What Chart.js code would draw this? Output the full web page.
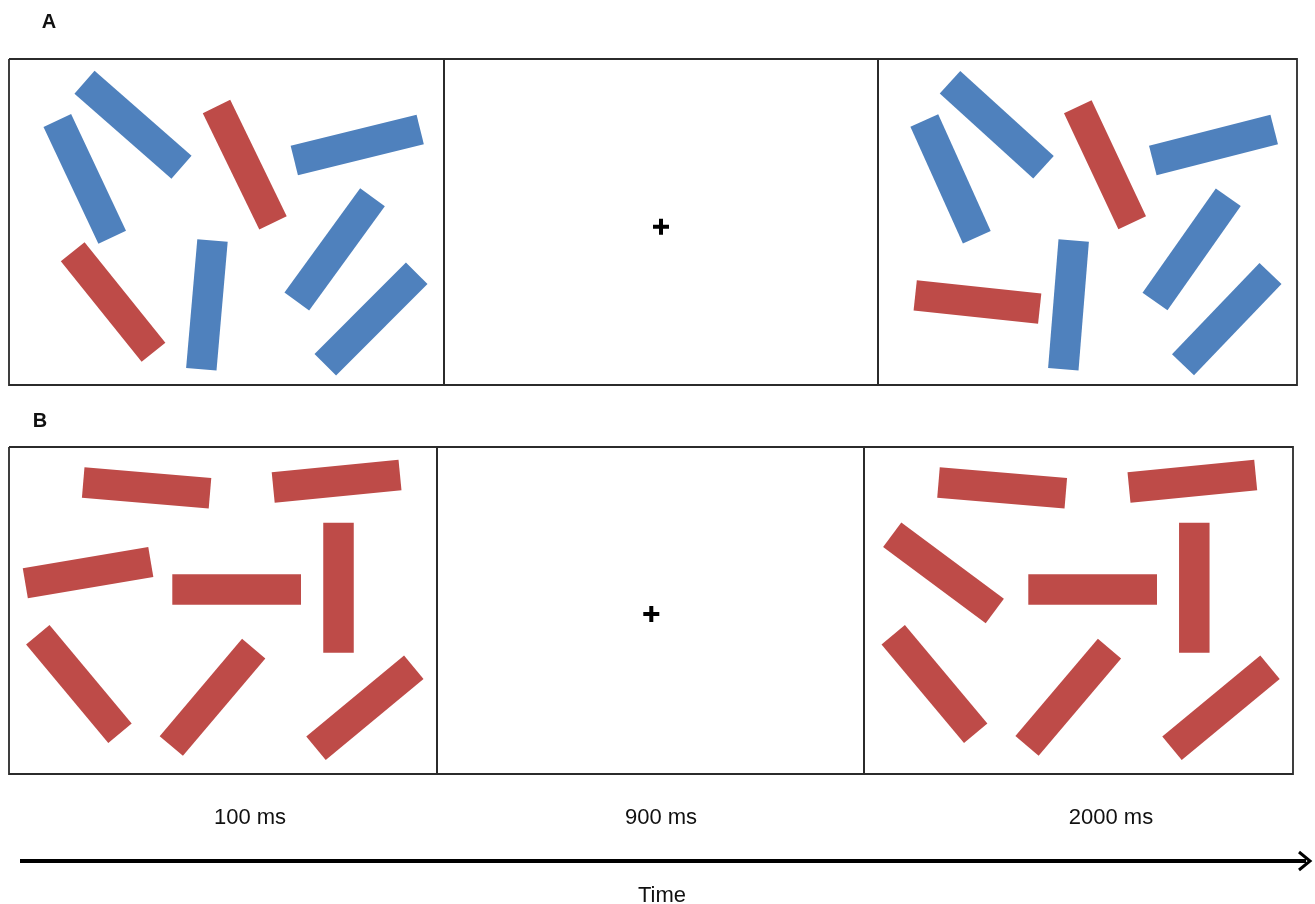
<!DOCTYPE html>
<html>
<head>
    <title>Stimulus sequence</title>
    <script src="https://cdn.jsdelivr.net/npm/chart.js@4.4.0/dist/chart.umd.min.js"></script>
    <style>
        body { margin: 0; background: #fff; }
        #wrap { width: 1315px; height: 904px; position: relative; }
    </style>
</head>
<body>
    <div id="wrap"><canvas id="myChart"></canvas></div>

    <script>
        // Panel frames (figure units)
        const rowAEdges = [9, 444, 878, 1297];
        const rowATopBottom = [59, 385];
        const rowBEdges = [9, 437, 864, 1293];
        const rowBTopBottom = [447, 774];

        // Bars: [x1, y1, x2, y2] centre line ends
        const barsA1 = [[84.5, 82.2, 181.5, 167.2], [57.3, 120.5, 112.2, 237.3], [216.5, 106.5, 273, 222.8],
            [294.3, 160.5, 420.2, 129.5], [72.7, 251.8, 153.5, 352.2], [212.5, 240.5, 201.3, 369.3],
            [372.5, 197.2, 296.8, 301.5], [416.7, 273.3, 325.3, 364.8]];
        const coloursA1 = ['blue', 'blue', 'red', 'blue', 'red', 'blue', 'blue', 'blue'];
        const barsA3 = [[950, 82.2, 1043.5, 167.2], [924.3, 120.5, 976.8, 237.3], [1077.8, 106.7, 1132.2, 222.8],
            [1152.8, 160.5, 1274.2, 129.5], [915.2, 295.3, 1039.7, 308.7], [1073.7, 240.5, 1063.3, 369.3],
            [1228.3, 197.2, 1155, 301.5], [1270.5, 273.5, 1183, 364.8]];
        const coloursA3 = ['blue', 'blue', 'red', 'blue', 'red', 'blue', 'blue', 'blue'];
        const barsB1 = [[83.2, 482.5, 210, 493.2], [273.2, 487.5, 400, 475], [25.3, 583.2, 150.8, 562],
            [172.3, 589.5, 301, 589.5], [338.5, 522.7, 338.5, 652.7], [37.8, 634.7, 120, 733.2],
            [253.7, 648.7, 171.3, 746], [413.8, 667.3, 316, 748.3]];
        const barsB3 = [[938.5, 482.5, 1065.8, 493.2], [1129, 487.5, 1255.7, 475], [892.2, 534.7, 994.8, 611],
            [1028.3, 589.5, 1157, 589.5], [1194.3, 522.7, 1194.3, 652.7], [893.2, 634.8, 975.7, 733.2],
            [1109.5, 648.7, 1027, 745.8], [1270, 667.2, 1172, 748.3]];
        const coloursB = ['red', 'red', 'red', 'red', 'red', 'red', 'red', 'red'];

        // Fixation crosses
        const fixationPoints = [[661, 226.7], [651.3, 614]];

        // Timeline
        const durations = ['100 ms', '900 ms', '2000 ms'];
        const durationX = [250, 661, 1111];
        const durationY = 818;
        const timeAxis = [20, 1306, 861];
        const panelLabels = ['A', 'B'];
        const panelLabelPos = [[49, 22], [40, 421]];

        const palette = { blue: '#4F81BD', red: '#BE4B48' };

        function barSets(bars, colours) {
            return bars.map((b, i) => ({
                data: [{ x: b[0], y: b[1] }, { x: b[2], y: b[3] }],
                showLine: true,
                borderColor: palette[colours[i]],
                borderWidth: 30.5,
                borderCapStyle: 'butt',
                pointRadius: 0,
                clip: false
            }));
        }

        function frameSets(edges, tb) {
            const sets = [];
            for (let i = 0; i < edges.length - 1; i++) {
                const x0 = edges[i], x1 = edges[i + 1];
                sets.push({
                    data: [{ x: x0, y: tb[0] }, { x: x1, y: tb[0] }, { x: x1, y: tb[1] }, { x: x0, y: tb[1] }, { x: x0, y: tb[0] }],
                    showLine: true,
                    borderColor: '#2b2b2b',
                    borderWidth: 1.8,
                    borderJoinStyle: 'miter',
                    pointRadius: 0,
                    clip: false
                });
            }
            return sets;
        }

        const datasets = [
            ...frameSets(rowAEdges, rowATopBottom),
            ...frameSets(rowBEdges, rowBTopBottom),
            ...barSets(barsA1, coloursA1),
            ...barSets(barsA3, coloursA3),
            ...barSets(barsB1, coloursB),
            ...barSets(barsB3, coloursB),
            {
                data: fixationPoints.map(p => ({ x: p[0], y: p[1] })),
                pointStyle: 'cross',
                pointRadius: 8,
                pointBorderWidth: 4,
                pointBorderColor: '#000',
                clip: false
            },
            {
                data: [{ x: timeAxis[0], y: timeAxis[2] }, { x: timeAxis[1], y: timeAxis[2] }],
                showLine: true,
                borderColor: '#000',
                borderWidth: 4,
                borderCapStyle: 'butt',
                pointRadius: 0,
                clip: false
            },
            {
                data: [{ x: timeAxis[1] - 7, y: timeAxis[2] - 9 }, { x: timeAxis[1] + 4, y: timeAxis[2] }, { x: timeAxis[1] - 7, y: timeAxis[2] + 9 }],
                showLine: true,
                borderColor: '#000',
                borderWidth: 3,
                borderJoinStyle: 'miter',
                pointRadius: 0,
                clip: false
            }
        ];

        // Text labels drawn at scale positions
        const textPlugin = {
            id: 'labels',
            afterDatasetsDraw(chart) {
                const { ctx, scales: { x, y } } = chart;
                ctx.save();
                ctx.fillStyle = '#111';
                ctx.textAlign = 'center';
                ctx.textBaseline = 'middle';
                ctx.font = 'bold 20px "Liberation Sans", Arial, sans-serif';
                panelLabels.forEach((t, i) => {
                    ctx.fillText(t, x.getPixelForValue(panelLabelPos[i][0]), y.getPixelForValue(panelLabelPos[i][1]));
                });
                ctx.font = '22px "Liberation Sans", Arial, sans-serif';
                durations.forEach((t, i) => {
                    ctx.fillText(t, x.getPixelForValue(durationX[i]), y.getPixelForValue(durationY));
                });
                ctx.fillText('Time', x.getPixelForValue(662), y.getPixelForValue(896));
                ctx.restore();
            }
        };

        const config = {
            type: 'scatter',
            data: { datasets: datasets },
            options: {
                responsive: true,
                maintainAspectRatio: false,
                animation: false,
                layout: { padding: 0, autoPadding: false },
                plugins: { legend: { display: false }, tooltip: { enabled: false } },
                scales: {
                    x: { type: 'linear', min: 0, max: 1315, display: false },
                    y: { type: 'linear', min: 0, max: 904, reverse: true, display: false }
                }
            },
            plugins: [textPlugin]
        };

        new Chart(document.getElementById('myChart'), config);
    </script>
</body>
</html>
